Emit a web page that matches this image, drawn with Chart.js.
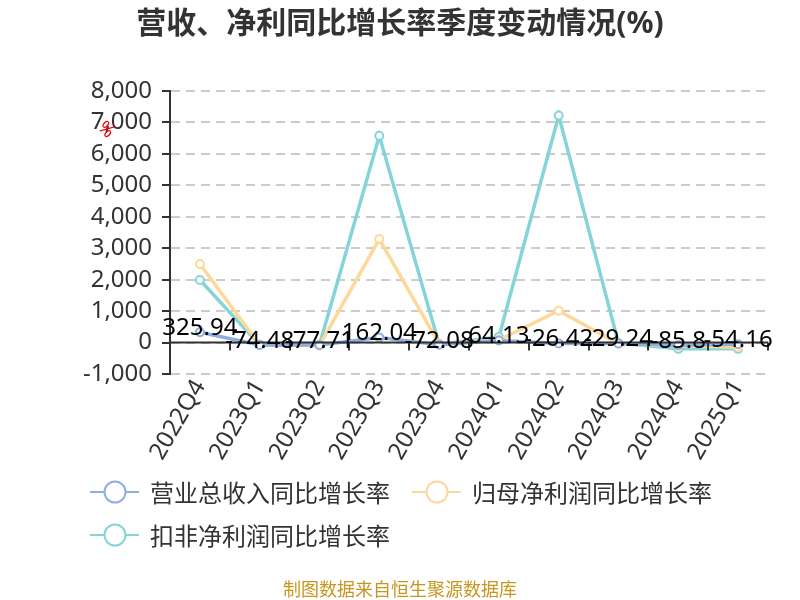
<!DOCTYPE html>
<html>
<head>
<meta charset="utf-8">
<script src="https://cdn.jsdelivr.net/npm/chart.js@4.4.1/dist/chart.umd.min.js"></script>
<style>
  html, body { margin: 0; padding: 0; background: #fff; }
  #wrap { position: relative; width: 800px; height: 600px; font-family: "Noto Sans", "Noto Sans CJK SC", sans-serif; }
  #title { position: absolute; left: 0; top: 4px; width: 800px; line-height: 36px; text-align: center; font-size: 30px; font-weight: bold; color: #333; }
  #legend { position: absolute; left: 90px; top: 470px; width: 700px; display: flex; flex-wrap: wrap; }
  .item { display: flex; align-items: center; height: 43px; margin-right: 22px; font-size: 24px; color: #333; white-space: nowrap; }
  .item svg { margin-right: 11px; }
  #source { position: absolute; left: 0; top: 578px; width: 800px; line-height: 22px; text-align: center; font-size: 18px; color: #c8961f; }
</style>
</head>
<body>
<div id="wrap">
  <canvas id="line-chart" width="800" height="600"></canvas>
  <div id="title">营收、净利同比增长率季度变动情况(%)</div>
  <div id="legend"></div>
  <div id="source">制图数据来自恒生聚源数据库</div>
</div>
<script>
var labels = ["2022Q4", "2023Q1", "2023Q2", "2023Q3", "2023Q4", "2024Q1", "2024Q2", "2024Q3", "2024Q4", "2025Q1"];

var revenueGrowth = [325.94, -74.48, -77.71, 162.04, -72.08, 64.13, -26.42, -29.24, -85.8, -54.16];
var netProfitGrowth = [2500, -80, -90, 3290, -40, 80, 1010, -40, -105, -150];
var deductedGrowth = [1990, -73, -73, 6575, -50, 180, 7220, -20, -200, -200];

var seriesNames = ["营业总收入同比增长率", "归母净利润同比增长率", "扣非净利润同比增长率"];
var seriesColors = ["#90aee0", "#fdd898", "#84d4d8"];

var fontFamily = '"Noto Sans", "Noto Sans CJK SC", sans-serif';
Chart.defaults.font.family = fontFamily;

function makeSet(i, values) {
  return {
    label: seriesNames[i],
    data: values,
    borderColor: seriesColors[i],
    backgroundColor: "#fff",
    borderWidth: 3.5,
    pointRadius: 4,
    pointBorderWidth: 2,
    pointBackgroundColor: "#fff",
    pointBorderColor: seriesColors[i],
    tension: 0,
    fill: false,
  };
}

// zero axis line, value labels and the little "%" name
var extras = {
  id: "extras",
  afterDatasetsDraw: function (chart) {
    var ctx = chart.ctx;
    var area = chart.chartArea;
    var x = chart.scales.x;
    var y = chart.scales.y;
    var y0 = y.getPixelForValue(0);
    var step = x.getPixelForValue(1) - x.getPixelForValue(0);

    ctx.save();
    ctx.strokeStyle = "#333";
    ctx.lineWidth = 2;
    ctx.beginPath();
    ctx.moveTo(area.left, y0);
    ctx.lineTo(area.right, y0);
    for (var i = 0; i <= labels.length; i++) {
      var px = Math.round(x.getPixelForValue(0) - step / 2 + i * step);
      ctx.moveTo(px, y0);
      ctx.lineTo(px, y0 + 8);
    }
    ctx.stroke();

    ctx.fillStyle = "#000";
    ctx.font = "24px " + fontFamily;
    ctx.textAlign = "center";
    ctx.textBaseline = "middle";
    chart.getDatasetMeta(0).data.forEach(function (pt, i) {
      ctx.fillText(String(revenueGrowth[i]), pt.x, pt.y - 4);
    });

    ctx.translate(106, 130);
    ctx.rotate(Math.PI / 4);
    ctx.fillStyle = "#e00";
    ctx.font = "18px " + fontFamily;
    ctx.fillText("%", 0, 0);
    ctx.restore();
  },
};

var config = {
  type: "line",
  data: {
    labels: labels,
    datasets: [
      makeSet(0, revenueGrowth),
      makeSet(1, netProfitGrowth),
      makeSet(2, deductedGrowth),
    ],
  },
  options: {
    responsive: false,
    animation: false,
    layout: { padding: { left: 0, right: 32, top: 91, bottom: 126 } },
    plugins: {
      legend: { display: false },
      tooltip: { enabled: false },
      title: { display: false },
    },
    scales: {
      x: {
        offset: true,
        grid: { display: false },
        border: { display: false },
        ticks: {
          color: "#333",
          font: { size: 24 },
          minRotation: 60,
          maxRotation: 60,
          padding: -7,
          autoSkip: false,
        },
        afterFit: function (s) { s.height = 100; },
      },
      y: {
        min: -1000,
        max: 8000,
        ticks: {
          stepSize: 1000,
          autoSkip: false,
          color: "#333",
          font: { size: 24 },
          padding: 10,
          callback: function (v) { return v.toLocaleString("en-US"); },
        },
        grid: { color: "#ccc", lineWidth: 2, tickColor: "#333", tickLength: 8, tickWidth: 2 },
        border: { display: true, color: "#333", width: 2, dash: [9, 6] },
        afterFit: function (s) { s.width = 170; },
      },
    },
  },
  plugins: [extras],
};

var ctxOne = document.getElementById("line-chart").getContext("2d");
var chart = new Chart(ctxOne, config);

// legend: line with a hollow circle, then the series name
var legendBox = document.getElementById("legend");
chart.data.datasets.forEach(function (ds) {
  var item = document.createElement("div");
  item.className = "item";
  item.innerHTML =
    '<svg width="49" height="26"><line x1="0" y1="13" x2="49" y2="13" stroke="' + ds.borderColor +
    '" stroke-width="2"/><circle cx="25" cy="13" r="10.5" fill="#fff" stroke="' + ds.borderColor +
    '" stroke-width="2"/></svg><span>' + ds.label + "</span>";
  legendBox.appendChild(item);
});
</script>
</body>
</html>
